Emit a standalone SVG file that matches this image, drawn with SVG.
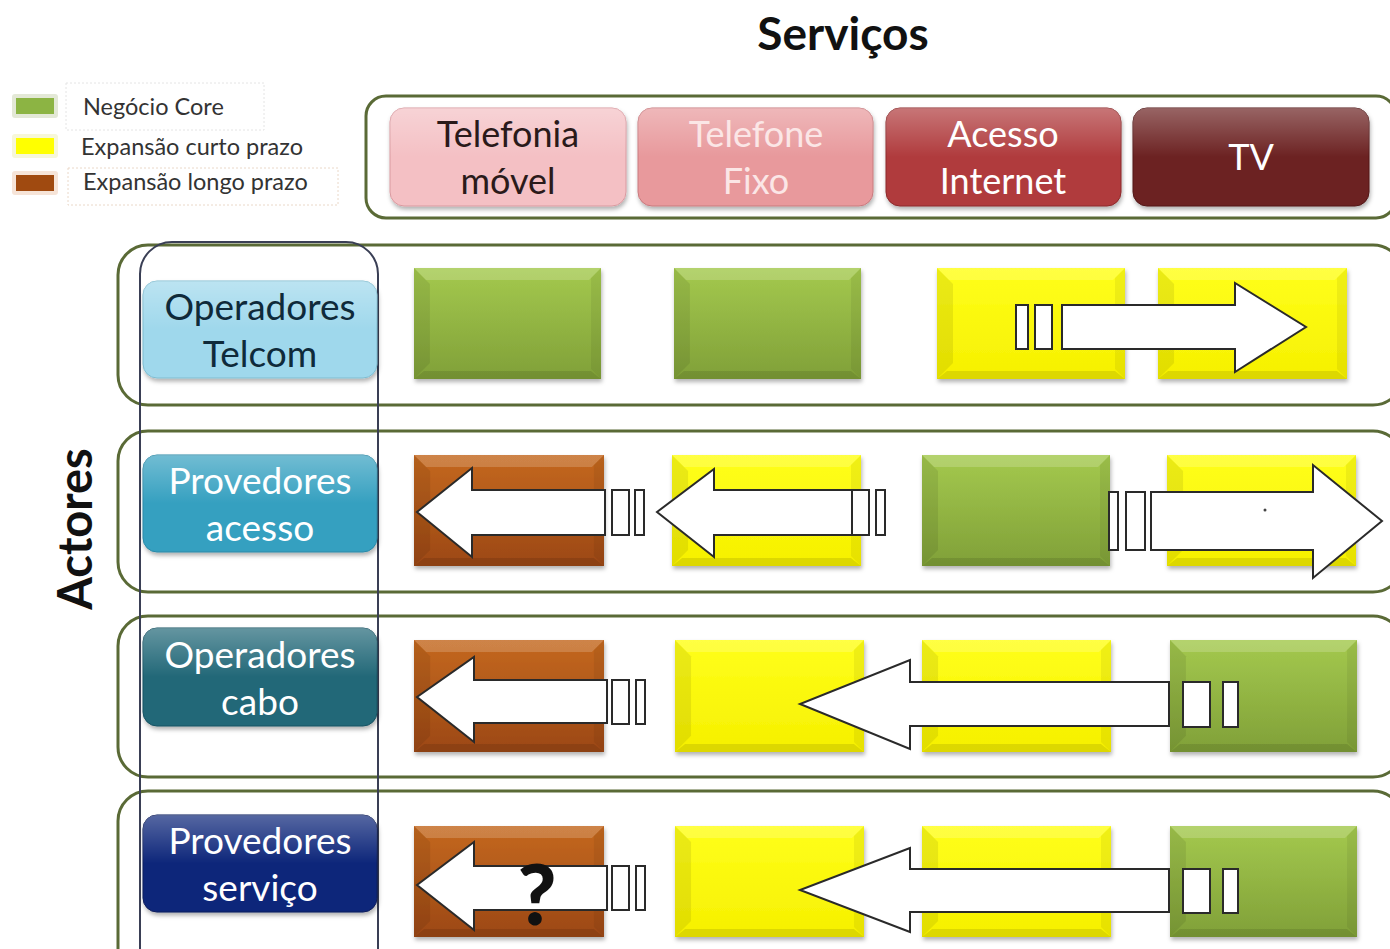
<svg xmlns="http://www.w3.org/2000/svg" xmlns:xlink="http://www.w3.org/1999/xlink" width="1390" height="949" viewBox="0 0 1390 949">
<style>
text{font-family:Lato,"Open Sans","Liberation Sans",sans-serif}
.t{font-size:37px;text-anchor:middle}
.s{font-size:36px;text-anchor:middle}
.lg{font-size:23.5px;fill:#333}
.frame{fill:none;stroke:#5a6a36;stroke-width:3}
.arr{fill:#fff;stroke:#2a2a2a;stroke-width:2;stroke-linejoin:miter}
.cell{filter:url(#sh)}
</style>
<defs>
<filter id="sh" x="-10%" y="-10%" width="125%" height="130%">
<feDropShadow dx="1" dy="3" stdDeviation="2" flood-color="#000" flood-opacity="0.3"/>
</filter>
<linearGradient id="gG" x1="0" y1="0" x2="0" y2="1"><stop offset="0" stop-color="#a4c94e"/><stop offset="1" stop-color="#80a038"/></linearGradient>
<linearGradient id="gY" x1="0" y1="0" x2="0" y2="1"><stop offset="0" stop-color="#ffff1a"/><stop offset="1" stop-color="#f6f000"/></linearGradient>
<linearGradient id="gB" x1="0" y1="0" x2="0" y2="1"><stop offset="0" stop-color="#c46820"/><stop offset="1" stop-color="#9c4812"/></linearGradient>
<linearGradient id="gl" x1="0" y1="0" x2="0" y2="1"><stop offset="0" stop-color="#fff" stop-opacity="0.3"/><stop offset="0.5" stop-color="#fff" stop-opacity="0"/></linearGradient>
<symbol id="bev" viewBox="0 0 188 111" preserveAspectRatio="none">
<polygon points="0,0 188,0 176,12 12,12" fill="#fff" opacity="0.18"/>
<polygon points="0,0 16,16 16,95 0,111" fill="#000" opacity="0.08"/>
<polygon points="188,0 188,111 178,101 178,10" fill="#000" opacity="0.06"/>
<polygon points="0,111 188,111 178,103 10,103" fill="#000" opacity="0.1"/>
</symbol>
</defs>
<rect width="1390" height="949" fill="#fff"/>

<text x="843" y="50" text-anchor="middle" font-size="46" font-weight="bold" fill="#111">Serviços</text>
<text transform="translate(92,529) rotate(-90)" text-anchor="middle" font-size="47" font-weight="bold" fill="#111">Actores</text>

<g id="legend">
<rect x="66" y="83" width="198" height="47" fill="none" stroke="#e4e4e4" stroke-dasharray="2 2"/>
<rect x="68" y="168" width="270" height="37" fill="none" stroke="#ead8c8" stroke-dasharray="2 2"/>
<rect x="12" y="94" width="46" height="24" rx="3" fill="#e3e8d6"/>
<rect x="16" y="98" width="38" height="16" fill="#8cb443"/>
<rect x="12" y="134" width="46" height="24" rx="3" fill="#f7f7d8"/>
<rect x="16" y="138" width="38" height="16" fill="#ffff00"/>
<rect x="12" y="171" width="46" height="24" rx="3" fill="#f6e4d8"/>
<rect x="16" y="175" width="38" height="16" fill="#a04a10"/>
<text class="lg" x="83" y="115">Negócio Core</text>
<text class="lg" x="81" y="155">Expansão curto prazo</text>
<text class="lg" x="83" y="190">Expansão longo prazo</text>
</g>

<g id="services">
<rect class="frame" x="366" y="96" width="1030" height="122" rx="20"/>
<g id="svc-movel"><rect class="cell" x="390" y="108" width="236" height="98" rx="14" fill="#f4c0c4" stroke="#d99aa0"/><rect x="390" y="108" width="236" height="98" rx="14" fill="url(#gl)"/><text class="s" x="508" y="147" fill="#2a1a1a">Telefonia</text><text class="s" x="508" y="194" fill="#2a1a1a">móvel</text></g>
<g id="svc-fixo"><rect class="cell" x="638" y="108" width="235" height="98" rx="14" fill="#e8999c" stroke="#c87a7e"/><rect x="638" y="108" width="235" height="98" rx="14" fill="url(#gl)"/><text class="s" x="756" y="147" fill="#fbe6e6">Telefone</text><text class="s" x="756" y="194" fill="#fbe6e6">Fixo</text></g>
<g id="svc-internet"><rect class="cell" x="886" y="108" width="235" height="98" rx="14" fill="#b03a3c" stroke="#8c2a2c"/><rect x="886" y="108" width="235" height="98" rx="14" fill="url(#gl)"/><text class="s" x="1003" y="147" fill="#fff">Acesso</text><text class="s" x="1003" y="194" fill="#fff">Internet</text></g>
<g id="svc-tv"><rect class="cell" x="1133" y="108" width="236" height="98" rx="14" fill="#6c2222" stroke="#521818"/><rect x="1133" y="108" width="236" height="98" rx="14" fill="url(#gl)"/><text class="s" x="1251" y="170" fill="#fff">TV</text></g>
</g>

<g id="rows">
<rect class="frame" x="118" y="245" width="1285" height="160" rx="30"/>
<rect class="frame" x="118" y="431" width="1285" height="161" rx="30"/>
<rect class="frame" x="118" y="616" width="1285" height="161" rx="30"/>
<rect class="frame" x="118" y="791" width="1285" height="190" rx="30"/>
<rect x="140" y="242" width="238" height="740" rx="32" fill="none" stroke="#3a3f55" stroke-width="2"/>
</g>

<g id="actors">
<g id="a1"><rect class="cell" x="143" y="281" width="234" height="97" rx="14" fill="#9fd8ec" stroke="#7fbcd0"/><rect x="143" y="281" width="234" height="97" rx="14" fill="url(#gl)"/><text class="t" x="260" y="320" fill="#0f2a3a">Operadores</text><text class="t" x="260" y="367" fill="#0f2a3a">Telcom</text></g>
<g id="a2"><rect class="cell" x="143" y="455" width="234" height="97" rx="14" fill="#36a0c0" stroke="#2a88a6"/><rect x="143" y="455" width="234" height="97" rx="14" fill="url(#gl)"/><text class="t" x="260" y="494" fill="#fff">Provedores</text><text class="t" x="260" y="541" fill="#fff">acesso</text></g>
<g id="a3"><rect class="cell" x="143" y="628" width="234" height="98" rx="14" fill="#216878" stroke="#185262"/><rect x="143" y="628" width="234" height="98" rx="14" fill="url(#gl)"/><text class="t" x="260" y="668" fill="#fff">Operadores</text><text class="t" x="260" y="715" fill="#fff">cabo</text></g>
<g id="a4"><rect class="cell" x="143" y="815" width="234" height="97" rx="14" fill="#10287a" stroke="#0a1c5a"/><rect x="143" y="815" width="234" height="97" rx="14" fill="url(#gl)"/><text class="t" x="260" y="854" fill="#fff">Provedores</text><text class="t" x="260" y="901" fill="#fff">serviço</text></g>
</g>

<g id="cells">
<rect class="cell" x="414" y="268" width="187" height="111" fill="url(#gG)"/><use href="#bev" x="414" y="268" width="187" height="111"/>
<rect class="cell" x="674" y="268" width="187" height="111" fill="url(#gG)"/><use href="#bev" x="674" y="268" width="187" height="111"/>
<rect class="cell" x="937" y="268" width="188" height="111" fill="url(#gY)"/><use href="#bev" x="937" y="268" width="188" height="111"/>
<rect class="cell" x="1158" y="268" width="189" height="111" fill="url(#gY)"/><use href="#bev" x="1158" y="268" width="189" height="111"/>
<rect class="cell" x="414" y="455" width="190" height="111" fill="url(#gB)"/><use href="#bev" x="414" y="455" width="190" height="111"/>
<rect class="cell" x="672" y="455" width="189" height="111" fill="url(#gY)"/><use href="#bev" x="672" y="455" width="189" height="111"/>
<rect class="cell" x="922" y="455" width="188" height="111" fill="url(#gG)"/><use href="#bev" x="922" y="455" width="188" height="111"/>
<rect class="cell" x="1167" y="455" width="189" height="111" fill="url(#gY)"/><use href="#bev" x="1167" y="455" width="189" height="111"/>
<rect class="cell" x="414" y="640" width="190" height="112" fill="url(#gB)"/><use href="#bev" x="414" y="640" width="190" height="112"/>
<rect class="cell" x="675" y="640" width="189" height="112" fill="url(#gY)"/><use href="#bev" x="675" y="640" width="189" height="112"/>
<rect class="cell" x="922" y="640" width="189" height="112" fill="url(#gY)"/><use href="#bev" x="922" y="640" width="189" height="112"/>
<rect class="cell" x="1170" y="640" width="187" height="112" fill="url(#gG)"/><use href="#bev" x="1170" y="640" width="187" height="112"/>
<rect class="cell" x="414" y="826" width="190" height="111" fill="url(#gB)"/><use href="#bev" x="414" y="826" width="190" height="111"/>
<rect class="cell" x="675" y="826" width="189" height="111" fill="url(#gY)"/><use href="#bev" x="675" y="826" width="189" height="111"/>
<rect class="cell" x="922" y="826" width="189" height="111" fill="url(#gY)"/><use href="#bev" x="922" y="826" width="189" height="111"/>
<rect class="cell" x="1170" y="826" width="187" height="111" fill="url(#gG)"/><use href="#bev" x="1170" y="826" width="187" height="111"/>
</g>

<g id="connectors">
<rect class="arr" x="1016" y="305" width="12" height="44"/>
<rect class="arr" x="1035" y="305" width="17" height="44"/>
<polygon class="arr" points="1062,305 1235,305 1235,283 1306,327 1235,372 1235,349 1062,349"/>
<polygon class="arr" points="605,490 472,490 472,468 417,512 472,557 472,535 605,535"/>
<rect class="arr" x="612" y="490" width="17" height="45"/>
<rect class="arr" x="635" y="490" width="9" height="45"/>
<polygon class="arr" points="852,490 714,490 714,469 657,512 714,557 714,535 852,535"/>
<rect class="arr" x="852" y="490" width="17" height="45"/>
<rect class="arr" x="876" y="490" width="9" height="45"/>
<rect class="arr" x="1109" y="492" width="9" height="58"/>
<rect class="arr" x="1126" y="492" width="19" height="58"/>
<polygon class="arr" points="1151,492 1313,492 1313,465 1382,521 1313,578 1313,550 1151,550"/>
<circle cx="1265" cy="510" r="1.5" fill="#444"/>
<polygon class="arr" points="607,680 474,680 474,657 417,697 474,742 474,723 607,723"/>
<rect class="arr" x="612" y="680" width="17" height="44"/>
<rect class="arr" x="636" y="680" width="9" height="44"/>
<polygon class="arr" points="1169,682 910,682 910,660 800,704 910,749 910,726 1169,726"/>
<rect class="arr" x="1183" y="682" width="27" height="45"/>
<rect class="arr" x="1223" y="682" width="15" height="45"/>
<polygon class="arr" points="607,866 474,866 474,842 417,885 474,930 474,910 607,910"/>
<rect class="arr" x="612" y="866" width="17" height="44"/>
<rect class="arr" x="636" y="866" width="9" height="44"/>
<polygon class="arr" points="1169,869 910,869 910,848 800,890 910,932 910,912 1169,912"/>
<rect class="arr" x="1183" y="869" width="27" height="44"/>
<rect class="arr" x="1223" y="869" width="15" height="44"/>
<text x="537" y="925" text-anchor="middle" font-size="84" font-weight="900" fill="#111">?</text>
</g>
</svg>
